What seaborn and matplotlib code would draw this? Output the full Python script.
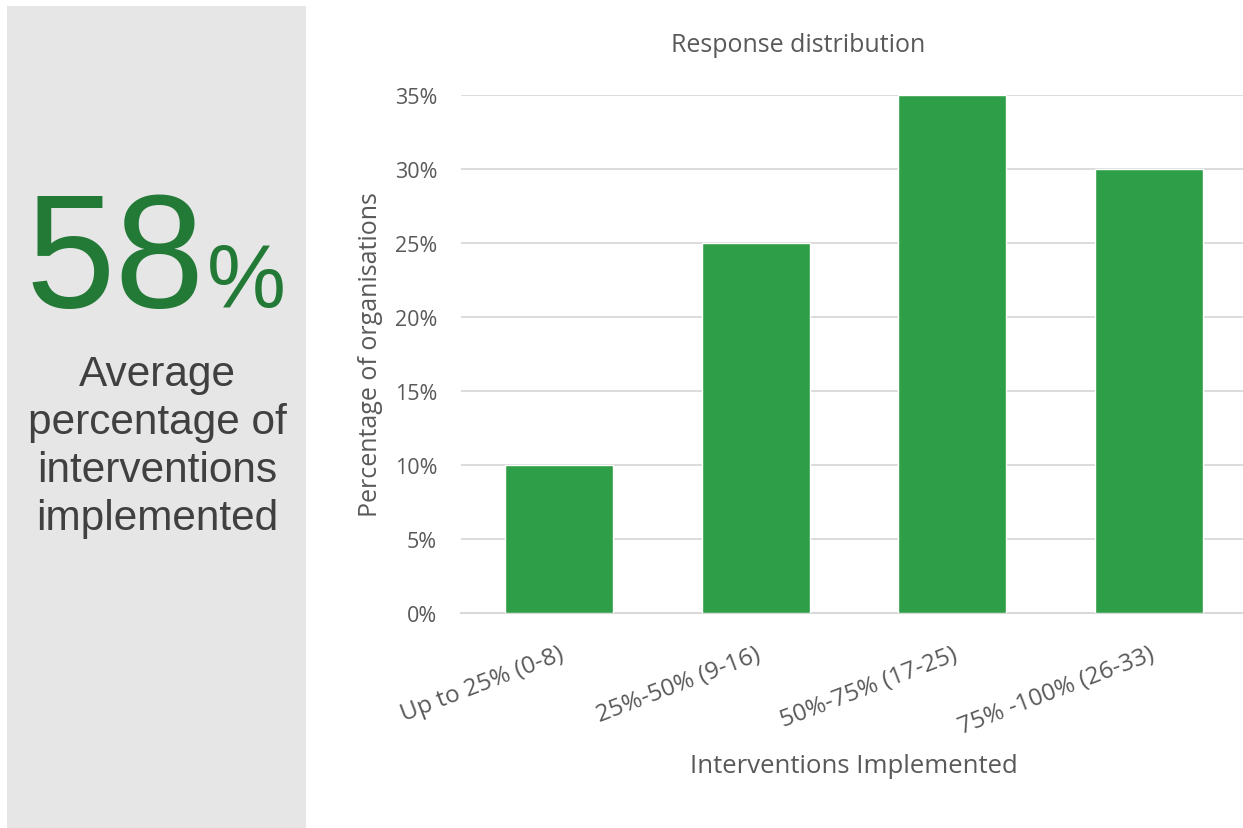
import matplotlib
matplotlib.use("Agg")
import matplotlib.pyplot as plt
import seaborn as sns
import pandas as pd
from matplotlib.patches import Rectangle
from matplotlib.ticker import PercentFormatter

categories = ["Up to 25% (0-8)", "25%-50% (9-16)", "50%-75% (17-25)", "75% -100% (26-33)"]
values = [0.10, 0.25, 0.35, 0.30]
yticks = [0, 0.05, 0.10, 0.15, 0.20, 0.25, 0.30, 0.35]

df = pd.DataFrame({"cat": categories, "val": values})

sns.set_theme(style="white")
plt.rcParams["font.family"] = ["Open Sans", "DejaVu Sans"]

W, H = 1243, 829
fig = plt.figure(figsize=(W / 100, H / 100), dpi=100)

# left grey panel
fig.patches.append(Rectangle((7 / W, 0), (306 - 7) / W, (829 - 7) / H,
                             transform=fig.transFigure, facecolor="#e6e6e6",
                             edgecolor="none", zorder=0))

ax = fig.add_axes([460.7 / W, 215 / H, (1247.3 - 460.7) / W, (733 - 215) / H])
sns.barplot(data=df, x="cat", y="val", color="#2f9e48", width=0.55,
            saturation=1, ax=ax, zorder=3)
ax.set_ylim(0, 0.35)
ax.set_xlim(-0.5, 3.5)
ax.set_yticks(yticks)
ax.yaxis.set_major_formatter(PercentFormatter(1.0, decimals=0))
ax.grid(axis="y", color="#d9d9d9", linewidth=1.3, zorder=0)
ax.set_axisbelow(True)
for s in ["top", "right", "left"]:
    ax.spines[s].set_visible(False)
ax.spines["bottom"].set_color("#d9d9d9")
ax.spines["bottom"].set_linewidth(1.5)
ax.tick_params(axis="y", length=0, pad=17, labelsize=15.5, labelcolor="#595959")
ax.tick_params(axis="x", length=0, pad=21, labelsize=17.5, labelcolor="#595959")
for lab in ax.get_xticklabels():
    lab.set_rotation(21)
    lab.set_ha("right")
    lab.set_va("top")
    lab.set_rotation_mode("anchor")
ax.set_xlabel("Interventions Implemented", fontsize=18.5, color="#595959")
ax.xaxis.set_label_coords(0.5, -(754 - 614) / 518)
ax.set_ylabel("Percentage of organisations", fontsize=18, color="#595959", labelpad=8)

fig.text(798 / W, 1 - 46 / H, "Response distribution", ha="center", va="center",
         fontsize=18, color="#595959")

# left panel text
arial = ["Liberation Sans", "DejaVu Sans"]
fig.text(205 / W, 1 - 307 / H, "58", ha="right", va="baseline", fontsize=116,
         color="#237a37", family=arial)
fig.text(207 / W, 1 - 307 / H, "%", ha="left", va="baseline", fontsize=64,
         color="#237a37", family=arial)
lines = ["Average", "percentage of", "interventions", "implemented"]
baselines = [386, 434, 482, 530]
for t, b in zip(lines, baselines):
    fig.text(157 / W, 1 - b / H, t, ha="center", va="baseline", fontsize=30.5,
             color="#404040", family=arial)

fig.savefig("out.png", dpi=100)
